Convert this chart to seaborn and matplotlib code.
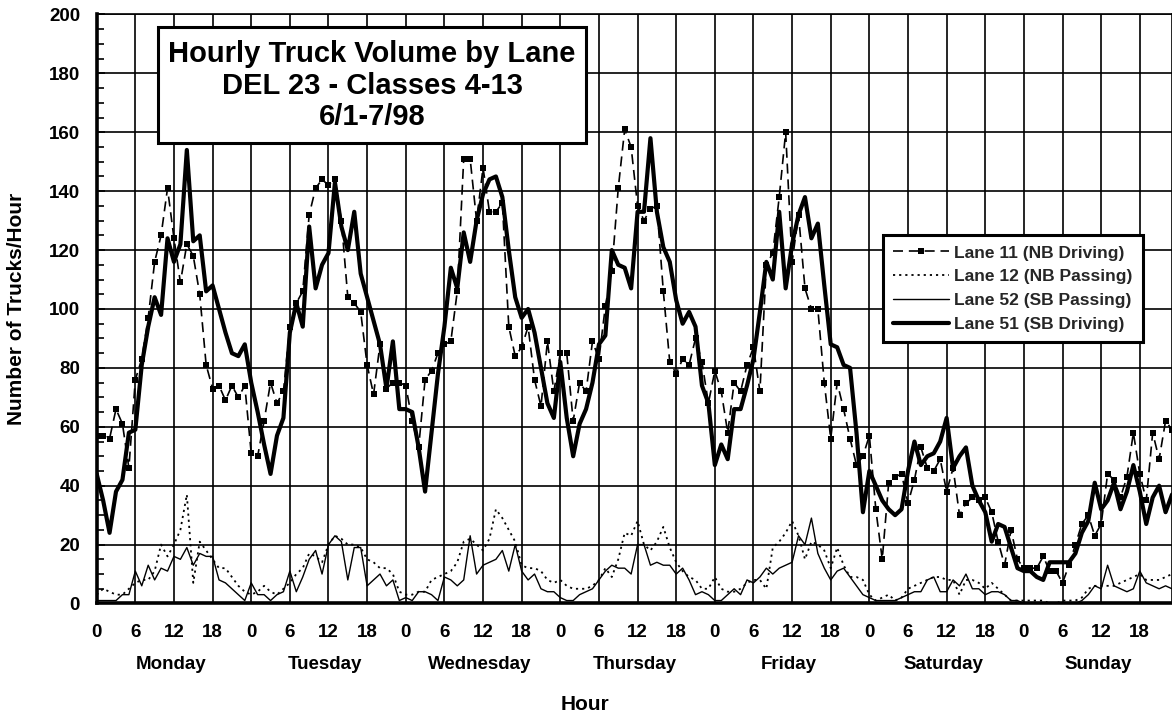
import pandas as pd
import matplotlib
matplotlib.use('Agg')
import matplotlib.pyplot as plt
from matplotlib.patches import Rectangle
from matplotlib.ticker import MultipleLocator
import seaborn as sns

days = ['Monday', 'Tuesday', 'Wednesday', 'Thursday', 'Friday', 'Saturday', 'Sunday']

# hourly truck counts, Monday 0h .. Sunday 23h (one row per day)
lane11 = [57, 57, 56, 66, 61, 46, 76, 83, 97, 116, 125, 141, 124, 109, 122, 118, 105, 81, 73, 74, 69, 74, 70, 74,
          51, 50, 62, 75, 68, 72, 94, 102, 106, 132, 141, 144, 142, 144, 130, 104, 102, 99, 81, 71, 88, 73, 75, 75,
          74, 62, 53, 76, 79, 85, 88, 89, 106, 151, 151, 130, 148, 133, 133, 136, 94, 84, 87, 94, 76, 67, 89, 72,
          85, 85, 62, 75, 72, 89, 83, 101, 113, 141, 161, 155, 135, 130, 134, 135, 106, 82, 78, 83, 81, 90, 82, 68,
          79, 72, 58, 75, 72, 81, 87, 72, 115, 119, 138, 160, 116, 132, 107, 100, 100, 75, 56, 75, 66, 56, 47, 50,
          57, 32, 15, 41, 43, 44, 34, 42, 53, 46, 45, 49, 38, 46, 30, 34, 36, 35, 36, 31, 21, 13, 25, 15,
          12, 12, 12, 16, 11, 11, 7, 13, 20, 27, 30, 23, 27, 44, 42, 36, 43, 58, 44, 35, 58, 49, 62, 59]

lane12 = [3, 5, 4, 3, 3, 5, 7, 8, 8, 11, 20, 16, 20, 25, 37, 7, 21, 18, 15, 12, 12, 9, 6, 4,
          3, 4, 6, 4, 3, 5, 7, 10, 12, 17, 16, 14, 20, 23, 22, 20, 20, 19, 15, 14, 12, 12, 10, 4,
          3, 3, 4, 4, 8, 9, 10, 11, 14, 21, 22, 20, 18, 22, 32, 29, 25, 21, 13, 12, 12, 11, 8, 7,
          8, 6, 5, 5, 5, 6, 8, 12, 9, 15, 24, 23, 28, 20, 18, 21, 26, 19, 14, 11, 9, 8, 5, 5,
          9, 5, 4, 4, 5, 7, 8, 8, 5, 19, 21, 24, 28, 23, 15, 21, 20, 18, 12, 19, 13, 9, 9, 8,
          3, 1, 2, 3, 1, 2, 5, 6, 7, 8, 9, 9, 8, 8, 3, 8, 8, 7, 5, 7, 5, 3, 1, 1,
          1, 1, 1, 1, 0, 0, 1, 1, 1, 2, 5, 6, 6, 6, 6, 7, 8, 9, 10, 8, 8, 8, 9, 10]

lane52 = [1, 1, 1, 1, 3, 3, 11, 6, 13, 8, 12, 11, 16, 15, 19, 13, 17, 16, 16, 8, 7, 5, 3, 1,
          7, 3, 3, 1, 3, 4, 11, 4, 9, 15, 18, 10, 20, 23, 21, 8, 19, 19, 6, 8, 10, 6, 8, 1,
          2, 1, 4, 4, 3, 1, 9, 8, 6, 8, 23, 10, 13, 14, 15, 18, 11, 20, 11, 8, 10, 5, 4, 4,
          2, 1, 1, 3, 4, 5, 8, 11, 13, 12, 12, 10, 20, 20, 13, 14, 13, 13, 10, 12, 8, 3, 4, 3,
          1, 1, 3, 5, 3, 8, 7, 9, 12, 10, 12, 13, 14, 23, 20, 29, 17, 12, 8, 11, 12, 9, 6, 3,
          2, 1, 1, 1, 1, 2, 3, 4, 4, 8, 9, 4, 4, 8, 6, 10, 5, 5, 3, 4, 4, 3, 1, 1,
          0, 0, 0, 0, 0, 0, 0, 0, 0, 1, 3, 6, 5, 13, 6, 5, 4, 5, 11, 7, 6, 5, 6, 5]

lane51 = [44, 35, 24, 38, 42, 58, 59, 81, 94, 104, 98, 124, 116, 122, 154, 123, 125, 106, 108, 100, 92, 85, 84, 88,
          75, 65, 54, 44, 57, 63, 92, 102, 94, 128, 107, 115, 119, 143, 128, 120, 133, 112, 104, 96, 88, 73, 89, 66,
          66, 65, 53, 38, 58, 78, 94, 114, 107, 126, 116, 130, 139, 144, 145, 138, 120, 104, 97, 100, 92, 80, 68, 63,
          82, 63, 50, 61, 66, 75, 88, 91, 120, 115, 114, 107, 133, 133, 158, 133, 121, 116, 103, 95, 99, 94, 74, 68,
          47, 54, 49, 66, 66, 74, 83, 99, 116, 110, 133, 107, 122, 132, 138, 124, 129, 108, 88, 87, 81, 80, 58, 31,
          45, 40, 35, 32, 30, 32, 45, 55, 47, 50, 51, 55, 63, 46, 50, 53, 40, 35, 31, 21, 27, 26, 19, 12,
          11, 11, 9, 8, 14, 14, 14, 14, 17, 24, 28, 41, 32, 35, 41, 32, 38, 47, 38, 27, 36, 40, 31, 37]

hours = list(range(len(lane11)))
df = pd.DataFrame({'Hour': hours, 'Lane 11': lane11, 'Lane 12': lane12,
                   'Lane 52': lane52, 'Lane 51': lane51})

sns.set_theme(style='white')
plt.rcParams['font.family'] = ['Liberation Sans', 'DejaVu Sans']
plt.rcParams['font.weight'] = 'bold'

fig = plt.figure(figsize=(11.72, 7.17), dpi=100)
ax = fig.add_axes([0.0825, 0.1583, 0.9175, 0.8215])

sns.lineplot(data=df, x='Hour', y='Lane 12', ax=ax, color='black', lw=1.3,
             linestyle=(0, (1.2, 2.2)), errorbar=None, label='Lane 12 (NB Passing)')
sns.lineplot(data=df, x='Hour', y='Lane 52', ax=ax, color='black', lw=1.0,
             errorbar=None, label='Lane 52 (SB Passing)')
sns.lineplot(data=df, x='Hour', y='Lane 11', ax=ax, color='black', lw=1.2,
             linestyle=(0, (6, 3.5)), marker='s', markersize=4.8, markeredgewidth=0,
             errorbar=None, label='Lane 11 (NB Driving)')
sns.lineplot(data=df, x='Hour', y='Lane 51', ax=ax, color='black', lw=3.0,
             errorbar=None, label='Lane 51 (SB Driving)')

ax.set_xlim(0, 167)
ax.set_ylim(0, 200)
ax.set_xticks(range(0, 168, 6))
ax.set_xticklabels([str(h % 24) for h in range(0, 168, 6)])
ax.set_yticks(range(0, 201, 20))
ax.yaxis.set_minor_locator(MultipleLocator(5))
ax.grid(True, which='major', color='black', lw=1.2)
ax.set_axisbelow(True)

ax.tick_params(axis='y', which='both', direction='in', left=True, width=1.2, color='black', pad=12)
ax.tick_params(axis='y', which='major', length=6)
ax.tick_params(axis='y', which='minor', length=5)
ax.tick_params(axis='x', which='both', length=0, pad=15)
for lab in ax.get_xticklabels() + ax.get_yticklabels():
    lab.set_fontsize(13.5)
    lab.set_fontweight('bold')
    lab.set_color('black')

for s in ['top', 'right']:
    ax.spines[s].set_color('black')
    ax.spines[s].set_linewidth(1.2)
for s in ['left', 'bottom']:
    ax.spines[s].set_color('black')
    ax.spines[s].set_linewidth(2.6)

ax.set_xlabel('')
ax.set_ylabel('Number of Trucks/Hour', fontsize=15, fontweight='bold', color='black')
ax.yaxis.set_label_coords(-0.066, 0.5)

for i, d in enumerate(days):
    ax.text(i * 24 + 11.5, -0.103, d, transform=ax.get_xaxis_transform(),
            ha='center', va='center', fontsize=13.5, fontweight='bold', color='black')
fig.text(585 / 1172, 1 - 704 / 717, 'Hour', ha='center', va='center',
         fontsize=15, fontweight='bold', color='black')

# title box
ax.add_patch(Rectangle((0.057, 0.782), 0.398, 0.197, transform=ax.transAxes,
                       facecolor='white', edgecolor='black', lw=2.2, zorder=5))
ax.text(0.256, 0.879, 'Hourly Truck Volume by Lane\nDEL 23 - Classes 4-13\n6/1-7/98',
        transform=ax.transAxes, ha='center', va='center', fontsize=21,
        fontweight='bold', linespacing=1.15, color='black', zorder=6)

handles, labels = ax.get_legend_handles_labels()
order = ['Lane 11 (NB Driving)', 'Lane 12 (NB Passing)', 'Lane 52 (SB Passing)', 'Lane 51 (SB Driving)']
hmap = dict(zip(labels, handles))
leg = ax.legend([hmap[k] for k in order], order, loc='upper left',
                bbox_to_anchor=(883 / 1172, 1 - 235 / 717), bbox_transform=fig.transFigure,
                borderaxespad=0, frameon=True, fancybox=False, framealpha=1, edgecolor='black',
                prop={'weight': 'bold', 'size': 12.5}, handlelength=3.2,
                handletextpad=0.3, labelspacing=0.5, borderpad=0.6)
leg.get_frame().set_linewidth(2.2)
leg.set_zorder(7)

fig.savefig('out.png', dpi=100)
